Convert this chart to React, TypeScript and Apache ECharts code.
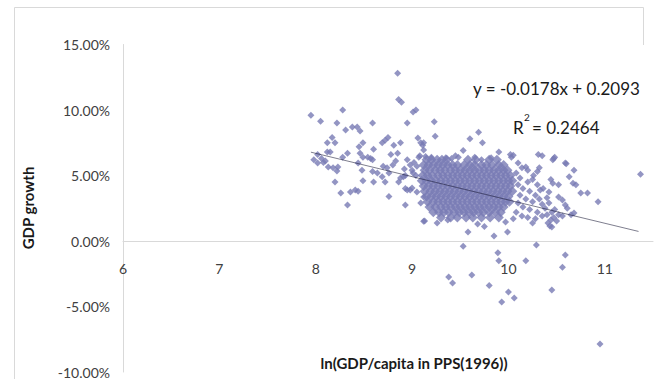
import { useEffect, useRef } from "react";
import * as echarts from "echarts";

// ---------- tick labels / texts ----------
const xTickValues = [6, 7, 8, 9, 10, 11];
const yTickValues = [-10, -5, 0, 5, 10, 15];
const xTitle = "ln(GDP/capita in PPS(1996))";
const yTitle = "GDP growth";
const equationText = "y = -0.0178x + 0.2093";
const r2Text = "= 0.2464";

// ---------- trend line (x, GDP growth %) ----------
const trendLine = [
  [7.95, 6.78],
  [11.35, 0.73],
];

// ---------- scattered observations (x = ln GDP/capita, y = growth %) ----------
const upperLeftPoints = [
  [7.95, 9.6], [8.05, 9.15], [8.28, 10.0], [8.22, 9.0], [8.59, 9.0], [8.95, 9.0],
  [8.85, 12.8], [8.86, 10.8], [8.89, 10.6], [9.04, 10.0], [9.01, 9.85],
  [8.31, 8.47], [8.38, 8.7], [8.43, 8.7], [8.46, 8.4], [9.06, 7.86], [8.75, 7.9],
  [8.72, 7.7], [8.17, 7.9], [8.12, 7.5], [8.2, 7.5], [8.49, 7.5], [8.45, 7.2],
  [8.69, 7.5], [8.81, 7.3], [8.88, 7.5], [8.6, 7.0], [9.11, 7.3], [9.12, 6.95],
  [8.12, 6.8], [8.15, 6.8], [8.33, 6.7], [8.28, 6.4], [8.78, 6.6], [8.85, 6.7],
  [8.46, 6.7], [8.49, 6.4], [8.57, 6.3], [8.02, 6.6], [8.06, 6.3], [8.1, 6.1],
  [7.98, 6.2],
];

const middleLeftPoints = [
  [8.02, 5.95], [8.08, 6.0], [8.13, 5.65], [8.18, 5.6], [8.22, 5.35], [8.23, 5.65],
  [8.2, 4.5], [8.26, 3.66], [8.36, 3.74], [8.41, 3.9], [8.44, 3.8], [8.33, 2.75],
  [8.49, 4.6], [8.6, 4.5], [8.48, 5.4], [8.44, 5.95], [8.54, 6.4], [8.59, 6.2],
  [8.59, 5.3], [8.64, 5.2], [8.69, 4.9], [8.72, 4.5], [8.7, 5.7], [8.74, 5.6],
  [8.76, 5.2], [8.76, 3.4], [8.88, 4.8], [8.86, 4.5], [8.91, 4.9], [8.93, 4.0],
  [8.98, 3.9], [8.93, 2.75], [9.0, 5.4], [9.04, 5.0], [9.12, 1.5], [9.09, 2.9],
  [9.12, 3.36], [8.95, 6.2], [9.02, 6.0], [9.05, 5.7], [8.98, 5.8], [9.08, 6.5],
  [8.92, 5.5], [8.83, 6.1], [8.8, 5.8], [8.93, 5.0], [9.01, 5.2], [8.95, 3.9],
  [9.0, 4.05], [9.05, 3.75], [9.09, 7.5],
];

const aboveClusterPoints = [
  [9.23, 9.1], [9.24, 8.0], [9.69, 8.3], [9.6, 7.8], [9.73, 7.5], [9.53, 6.9],
  [9.9, 6.8], [9.12, 7.5], [10.03, 6.4], [10.05, 6.55], [9.07, 6.4], [9.14, 6.45],
  [9.2, 6.4], [9.35, 6.35], [9.41, 6.3], [9.48, 6.4], [9.65, 6.4], [10.02, 6.6],
  [10.1, 5.95], [10.18, 5.65], [10.26, 5.0], [10.31, 6.6], [9.45, 6.5], [9.72, 6.2],
  [9.82, 6.35],
];

// dense core, one list of x values per growth level
const coreRow62 = [9.15, 9.2, 9.26, 9.31, 9.36, 9.58, 9.66, 9.8, 9.88];
const coreRow58 = [9.12, 9.17, 9.22, 9.27, 9.32, 9.37, 9.42, 9.47, 9.54, 9.6, 9.65, 9.72, 9.77, 9.83, 9.9, 9.95];
const coreRow54 = [9.13, 9.18, 9.24, 9.29, 9.34, 9.4, 9.45, 9.5, 9.55, 9.6, 9.65, 9.7, 9.75, 9.8, 9.85, 9.9, 9.95, 9.99];
const coreRow50 = [9.11, 9.16, 9.21, 9.27, 9.32, 9.37, 9.42, 9.47, 9.52, 9.57, 9.62, 9.67, 9.72, 9.77, 9.82, 9.87, 9.92, 9.97, 10.02];
const coreRow46 = [9.1, 9.15, 9.2, 9.25, 9.3, 9.35, 9.4, 9.45, 9.5, 9.55, 9.6, 9.65, 9.7, 9.75, 9.8, 9.85, 9.9, 9.95, 10.0, 10.04];
const coreRow42 = [9.12, 9.17, 9.22, 9.27, 9.32, 9.37, 9.42, 9.47, 9.52, 9.57, 9.62, 9.67, 9.72, 9.77, 9.82, 9.87, 9.92, 9.97, 10.02];
const coreRow38 = [9.13, 9.19, 9.24, 9.29, 9.34, 9.39, 9.44, 9.49, 9.54, 9.59, 9.64, 9.69, 9.74, 9.79, 9.84, 9.89, 9.94, 9.99, 10.04];
const coreRow34 = [9.15, 9.2, 9.25, 9.3, 9.35, 9.4, 9.45, 9.5, 9.55, 9.6, 9.65, 9.7, 9.75, 9.8, 9.85, 9.9, 9.95, 10.0];
const coreRow30 = [9.16, 9.22, 9.27, 9.32, 9.37, 9.42, 9.47, 9.52, 9.57, 9.62, 9.67, 9.72, 9.77, 9.82, 9.87, 9.92, 9.97, 10.01];
const coreRow26 = [9.18, 9.24, 9.3, 9.35, 9.4, 9.45, 9.5, 9.55, 9.6, 9.65, 9.7, 9.75, 9.8, 9.85, 9.9, 9.95];
const coreRow22 = [9.22, 9.28, 9.33, 9.38, 9.44, 9.49, 9.54, 9.59, 9.64, 9.69, 9.74, 9.8, 9.86, 9.92];
const coreRow18 = [9.3, 9.4, 9.47, 9.56, 9.63, 9.72, 9.81, 9.9];

const coreRows: [number, number[]][] = [
  [6.2, coreRow62], [5.8, coreRow58], [5.4, coreRow54], [5.0, coreRow50],
  [4.6, coreRow46], [4.2, coreRow42], [3.8, coreRow38], [3.4, coreRow34],
  [3.0, coreRow30], [2.6, coreRow26], [2.2, coreRow22], [1.8, coreRow18],
];

const rightTailPoints = [
  [10.08, 5.2], [10.12, 4.8], [10.1, 4.3], [10.15, 4.0], [10.2, 4.5], [10.22, 3.8],
  [10.28, 3.5], [10.12, 3.5], [10.18, 3.2], [10.25, 3.0], [10.32, 3.2], [10.35, 2.8],
  [10.1, 2.9], [10.15, 2.6], [10.22, 2.4], [10.3, 2.2], [10.38, 2.5], [10.42, 2.9],
  [10.45, 2.2], [10.08, 2.2], [10.14, 1.9], [10.2, 1.8], [10.28, 1.7], [10.35, 1.9],
  [10.4, 3.3], [10.36, 4.0], [10.25, 4.7], [10.3, 5.3], [10.2, 5.4], [10.14, 5.6],
  [10.4, 2.0], [10.47, 1.8], [10.05, 1.7], [10.33, 3.9],
];

const farRightPoints = [
  [10.35, 6.5], [10.46, 6.2], [10.48, 6.4], [10.59, 5.95], [10.68, 5.4], [10.32, 5.6],
  [10.63, 4.9], [10.44, 4.7], [10.46, 4.4], [10.67, 4.4], [10.7, 4.3], [10.52, 4.3],
  [10.3, 4.3], [10.42, 3.74], [10.75, 3.66], [10.82, 3.66], [10.93, 3.0], [10.52, 3.36],
  [10.56, 3.13], [10.59, 2.75], [10.61, 2.5], [10.68, 2.14], [10.65, 2.0], [10.48, 2.4],
  [10.52, 2.0], [10.56, 1.9], [10.44, 1.6], [10.41, 1.37], [10.25, 1.37], [11.37, 5.1],
  [10.45, 1.07], [10.5, 1.53], [10.47, 6.3], [10.6, 5.9],
];

const lowPoints = [
  [9.13, 1.53], [9.26, 1.37], [9.37, 1.6], [9.58, 0.69], [9.85, 0.38], [9.97, 1.45],
  [9.99, 0.69], [10.43, 1.15], [9.53, -0.4], [10.29, -0.3], [9.89, -0.9], [9.9, -1.5],
  [10.18, -1.5], [10.59, -1.07], [10.56, -2.0], [9.38, -2.75], [9.42, -3.2], [9.62, -2.6],
  [9.8, -3.4], [10.0, -3.9], [10.06, -4.35], [9.93, -4.65], [10.45, -3.74], [10.95, -7.86],
  [9.68, 1.3], [9.75, 1.1],
];

export default function App() {
  const ref = useRef<HTMLDivElement>(null);

  useEffect(() => {
    if (!ref.current) return;
    const chart = echarts.init(ref.current, undefined, { renderer: "svg" });

    const corePoints: number[][] = [];
    coreRows.forEach(([y, xs]) => xs.forEach((x) => corePoints.push([x, y])));
    const scatterPoints = [
      ...upperLeftPoints,
      ...middleLeftPoints,
      ...aboveClusterPoints,
      ...rightTailPoints,
      ...farRightPoints,
      ...lowPoints,
    ];

    const font = "Lato, 'Open Sans', sans-serif";
    const gray = "#d9d9d9";
    const pointColor = "#787ab4";

    chart.setOption({
      animation: false,
      backgroundColor: "#ffffff",
      grid: { left: 123, right: 2, top: 44.5, bottom: 6.5, containLabel: false },
      xAxis: {
        type: "value",
        min: 6,
        max: 11.5,
        interval: 1,
        position: "bottom",
        offset: -131,
        axisLine: { show: true, onZero: false, lineStyle: { color: gray, width: 1 } },
        axisTick: { show: false },
        splitLine: { show: false },
        axisLabel: {
          margin: 20,
          fontFamily: font,
          fontSize: 14,
          color: "#404040",
          showMaxLabel: false,
          formatter: (v: number) => (xTickValues.includes(v) ? String(v) : ""),
        },
      },
      yAxis: {
        type: "value",
        min: -10,
        max: 15,
        interval: 5,
        axisLine: { show: true, onZero: false, lineStyle: { color: gray, width: 1 } },
        axisTick: { show: false },
        splitLine: { show: false },
        axisLabel: {
          margin: 13,
          fontFamily: font,
          fontSize: 14,
          color: "#404040",
          formatter: (v: number) => (yTickValues.includes(v) ? v.toFixed(2) + "%" : ""),
        },
      },
      series: [
        {
          type: "scatter",
          data: corePoints,
          symbol: "diamond",
          symbolSize: 10,
          itemStyle: { color: pointColor },
          z: 2,
        },
        {
          type: "scatter",
          data: scatterPoints,
          symbol: "diamond",
          symbolSize: 7,
          itemStyle: { color: pointColor },
          z: 2,
        },
        {
          type: "line",
          data: trendLine,
          symbol: "none",
          lineStyle: { color: "rgba(20,20,50,0.55)", width: 1 },
          z: 3,
        },
      ],
      graphic: [
        {
          type: "polyline",
          shape: { points: [[643.5, 45], [643.5, 7.5], [14.5, 7.5], [14.5, 379]] },
          style: { stroke: gray, fill: "none", lineWidth: 1 },
          silent: true,
        },
        {
          type: "text",
          x: 28,
          y: 208,
          rotation: Math.PI / 2,
          style: {
            text: yTitle,
            fontFamily: font,
            fontSize: 15,
            fontWeight: "bold",
            fill: "#1a1a1a",
            align: "center",
            verticalAlign: "middle",
          },
        },
        {
          type: "text",
          x: 414,
          y: 363,
          style: {
            text: xTitle,
            fontFamily: font,
            fontSize: 15,
            fontWeight: "bold",
            fill: "#1a1a1a",
            align: "center",
            verticalAlign: "middle",
          },
        },
        {
          type: "text",
          x: 473,
          y: 88,
          style: {
            text: equationText,
            fontFamily: font,
            fontSize: 17,
            fill: "#1a1a1a",
            align: "left",
            verticalAlign: "middle",
          },
        },
        {
          type: "text",
          x: 513,
          y: 127,
          style: {
            text: "R",
            fontFamily: font,
            fontSize: 17,
            fill: "#1a1a1a",
            align: "left",
            verticalAlign: "middle",
          },
        },
        {
          type: "text",
          x: 524,
          y: 117,
          style: {
            text: "2",
            fontFamily: font,
            fontSize: 10,
            fill: "#1a1a1a",
            align: "left",
            verticalAlign: "middle",
          },
        },
        {
          type: "text",
          x: 532,
          y: 127,
          style: {
            text: r2Text,
            fontFamily: font,
            fontSize: 17,
            fill: "#1a1a1a",
            align: "left",
            verticalAlign: "middle",
          },
        },
      ],
    });

    return () => chart.dispose();
  }, []);

  return <div ref={ref} style={{ width: 655, height: 379, position: "absolute", left: 0, top: 0 }} />;
}
